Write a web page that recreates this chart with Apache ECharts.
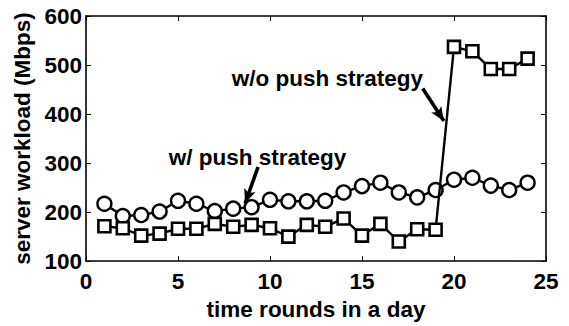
<!DOCTYPE html>
<html>
<head>
<meta charset="utf-8">
<script src="https://cdn.jsdelivr.net/npm/echarts@6/dist/echarts.min.js"></script>
<style>
  html, body { margin: 0; padding: 0; background: #fff; overflow: hidden; }
  #chart { width: 569px; height: 326px; }
</style>
</head>
<body>
<div id="chart"></div>
<script>
// Time rounds (x) and server workload in Mbps for the two strategies
const rounds = [1, 2, 3, 4, 5, 6, 7, 8, 9, 10, 11, 12, 13, 14, 15, 16, 17, 18, 19, 20, 21, 22, 23, 24];
const withPush = [217, 192, 194, 201, 223, 217, 202, 207, 210, 225, 222, 222, 223, 240, 253, 260, 240, 230, 245, 266, 270, 254, 245, 260];
const withoutPush = [171, 167, 152, 156, 166, 166, 176, 170, 174, 167, 150, 174, 170, 187, 152, 176, 140, 165, 164, 537, 528, 492, 492, 513];
const xTicks = [0, 5, 10, 15, 20, 25];
const yTicks = [100, 200, 300, 400, 500, 600];

const FONT = '"Liberation Sans", Arial, sans-serif';
const chart = echarts.init(document.getElementById('chart'), null, { renderer: 'svg' });

const pair = (xs, ys) => xs.map((x, i) => [x, ys[i]]);

const axisLine = { show: true, onZero: false, lineStyle: { color: '#000', width: 1.6 } };
const innerTick = { show: true, inside: true, length: 5, lineStyle: { color: '#000', width: 1 } };
const textFont = { fontFamily: FONT, fontWeight: 'bold', fontSize: 22.5, color: '#000' };

const option = {
  animation: false,
  backgroundColor: '#fff',
  grid: { left: 86, right: 23, top: 16, bottom: 58, containLabel: false },
  xAxis: [
    {
      type: 'value', min: xTicks[0], max: xTicks[xTicks.length - 1], interval: 5,
      name: 'time rounds in a day', nameLocation: 'middle', nameGap: 35,
      nameTextStyle: textFont,
      axisLine, axisTick: innerTick, splitLine: { show: false },
      axisLabel: Object.assign({ margin: 9 }, textFont)
    },
    {
      type: 'value', position: 'top', min: xTicks[0], max: xTicks[xTicks.length - 1], interval: 5,
      axisLine, axisTick: innerTick, axisLabel: { show: false }, splitLine: { show: false }
    }
  ],
  yAxis: [
    {
      type: 'value', min: yTicks[0], max: yTicks[yTicks.length - 1], interval: 100,
      name: 'server workload (Mbps)', nameLocation: 'middle', nameGap: 52,
      nameTextStyle: textFont,
      axisLine, axisTick: innerTick, splitLine: { show: false },
      axisLabel: Object.assign({ margin: 4 }, textFont)
    },
    {
      type: 'value', position: 'right', min: yTicks[0], max: yTicks[yTicks.length - 1], interval: 100,
      axisLine, axisTick: innerTick, axisLabel: { show: false }, splitLine: { show: false }
    }
  ],
  series: [
    {
      name: 'w/ push strategy', type: 'line', data: pair(rounds, withPush),
      symbol: 'circle', symbolSize: 14, showAllSymbol: true,
      lineStyle: { color: '#000', width: 2.4 },
      itemStyle: { color: '#fff', borderColor: '#000', borderWidth: 2.4 },
      z: 3
    },
    {
      name: 'w/o push strategy', type: 'line', data: pair(rounds, withoutPush),
      symbol: 'rect', symbolSize: 12, showAllSymbol: true,
      lineStyle: { color: '#000', width: 2.4 },
      itemStyle: { color: '#fff', borderColor: '#000', borderWidth: 2.6 },
      z: 4,
      markLine: {
        silent: true, symbol: ['none', 'arrow'], symbolSize: [9, 14],
        lineStyle: { color: '#000', width: 3.6, type: 'solid' },
        label: { show: false },
        data: [
          [{ coord: [18.3, 452] }, { coord: [19.45, 386] }],
          [{ coord: [9.35, 292] }, { coord: [8.65, 218] }]
        ]
      }
    }
  ]
};
chart.setOption(option);

// Text annotations placed in data space
const notes = [
  { text: 'w/o push strategy', at: [13.12, 473] },
  { text: 'w/ push strategy', at: [9.32, 311] }
];
chart.setOption({
  graphic: notes.map(n => {
    const p = chart.convertToPixel({ xAxisIndex: 0, yAxisIndex: 0 }, n.at);
    return {
      type: 'text', x: p[0], y: p[1], z: 10,
      style: {
        text: n.text, fill: '#000', fontFamily: FONT, fontWeight: 'bold', fontSize: 22.5,
        textAlign: 'center', textVerticalAlign: 'middle'
      }
    };
  })
});
</script>
</body>
</html>
